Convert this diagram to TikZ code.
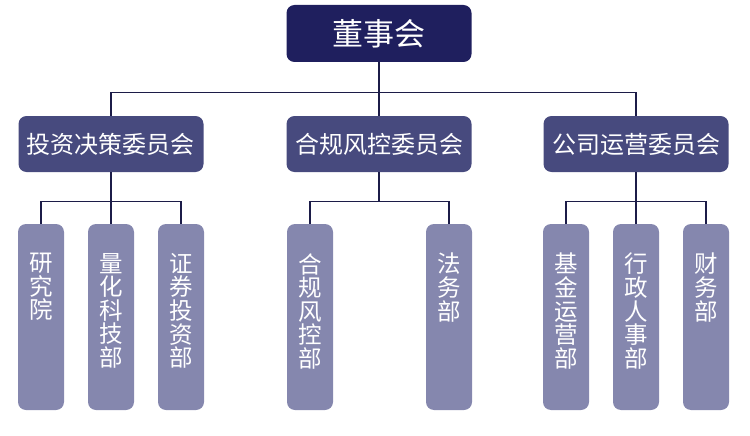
\documentclass[tikz,border=0pt]{standalone}
\usepackage{fontspec}
\setmainfont{Noto Sans CJK SC}
\definecolor{topc}{HTML}{1F1F5E}
\definecolor{midc}{HTML}{474A7E}
\definecolor{leafc}{HTML}{8587AE}
\definecolor{linec}{HTML}{1C1C48}
\begin{document}
\begin{tikzpicture}[x=1pt,y=-1pt,
  topbox/.style={fill=topc,rounded corners=8pt,minimum width=185pt,minimum height=57pt,inner sep=0pt,text=white,font=\fontsize{31}{33}\selectfont},
  midbox/.style={fill=midc,rounded corners=8pt,minimum width=185pt,minimum height=56pt,inner sep=0pt,text=white,font=\fontsize{24}{26}\selectfont},
  leafbox/.style={fill=leafc,rounded corners=8pt,minimum width=46pt,minimum height=186pt,inner sep=0pt},
  leaftxt/.style={anchor=north,align=center,inner sep=0pt,text=white,font=\fontsize{23.5}{23.6}\selectfont},
  conn/.style={draw=linec,line width=1.2pt}]
\useasboundingbox (0,0) rectangle (750,436);
\node[topbox] (top) at (379,33.5) {董事会};
\node[midbox] (m1) at (111,144) {投资决策委员会};
\node[midbox] (m2) at (379,144) {合规风控委员会};
\node[midbox] (m3) at (636,144) {公司运营委员会};
% leaves
\node[leafbox] (l1) at (41,317) {};
\node[leafbox] (l2) at (111,317) {};
\node[leafbox] (l3) at (181,317) {};
\node[leafbox] (l4) at (310,317) {};
\node[leafbox] (l5) at (449,317) {};
\node[leafbox] (l6) at (566,317) {};
\node[leafbox] (l7) at (636,317) {};
\node[leafbox] (l8) at (706,317) {};
\node[leaftxt] (t1) at (41,253) {研\\究\\院};
\node[leaftxt] (t2) at (111,253) {量\\化\\科\\技\\部};
\node[leaftxt] (t3) at (181,253) {证\\券\\投\\资\\部};
\node[leaftxt] (t4) at (310,253) {合\\规\\风\\控\\部};
\node[leaftxt] (t5) at (449,253) {法\\务\\部};
\node[leaftxt] (t6) at (566,253) {基\\金\\运\\营\\部};
\node[leaftxt] (t7) at (636,253) {行\\政\\人\\事\\部};
\node[leaftxt] (t8) at (706,253) {财\\务\\部};
% connectors
\draw[conn] (top.south) -- (m2.north);
\draw[conn] (m1.north) -- ++(0,-23) -| (m3.north);
\draw[conn] (m1.south) -- (l2.north);
\draw[conn] (l1.north) -- ++(0,-22) -| (l3.north);
\draw[conn] (m2.south) -- ++(0,30) coordinate (j2);
\draw[conn] (l4.north) -- ++(0,-22) -| (l5.north);
\draw[conn] (m3.south) -- (l7.north);
\draw[conn] (l6.north) -- ++(0,-22) -| (l8.north);
\end{tikzpicture}
\end{document}
